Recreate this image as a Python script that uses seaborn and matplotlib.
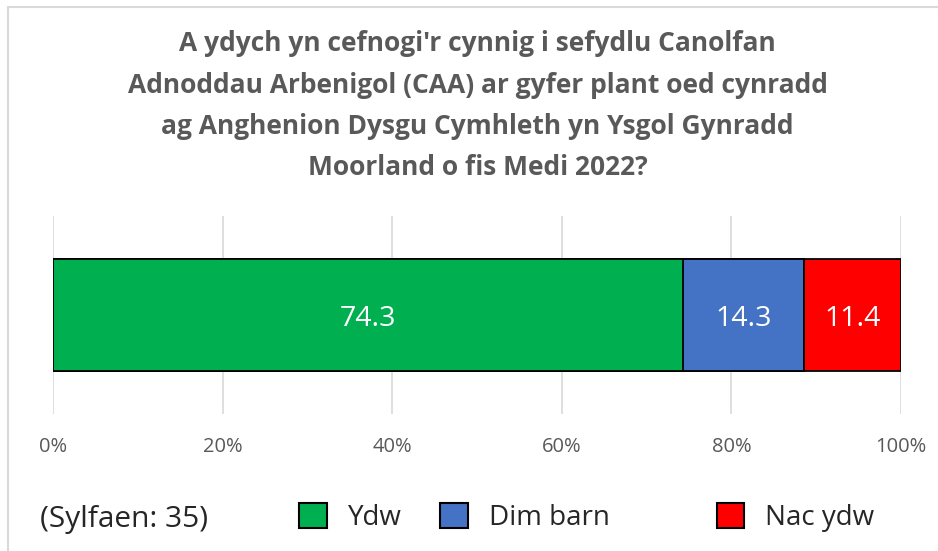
import numpy as np
import pandas as pd
import seaborn as sns
import matplotlib.pyplot as plt
from matplotlib.patches import Rectangle, Patch

# data
categories = ["Ydw", "Dim barn", "Nac ydw"]
values = [74.3, 14.3, 11.4]
colors = ["#00B050", "#4472C4", "#FF0000"]
tick_vals = [0, 20, 40, 60, 80, 100]
tick_labels = ["0%", "20%", "40%", "60%", "80%", "100%"]
title = ("A ydych yn cefnogi'r cynnig i sefydlu Canolfan\n"
         "Adnoddau Arbenigol (CAA) ar gyfer plant oed cynradd\n"
         "ag Anghenion Dysgu Cymhleth yn Ysgol Gynradd\n"
         "Moorland o fis Medi 2022?")
base_note = "(Sylfaen: 35)"

sns.set_theme(style="white")
plt.rcParams['font.family'] = ['Open Sans', 'DejaVu Sans']

fig = plt.figure(figsize=(9.38, 5.51), dpi=100)
ax = fig.add_axes([0.0565, 0.249, 0.904, 0.359])

# stacked bar: draw cumulative totals from largest to smallest
cum = np.cumsum(values)
df = pd.DataFrame({"cat": categories, "cum": cum, "row": [""] * 3})
for i in range(len(categories) - 1, -1, -1):
    sns.barplot(data=df.iloc[[i]], x="cum", y="row", color=colors[i],
                orient="h", width=0.57, edgecolor="black", linewidth=1.3,
                saturation=1, ax=ax, zorder=2)

starts = cum - np.array(values)
for s, v in zip(starts, values):
    ax.text(s + v / 2, 0.02, f"{v:.1f}", color="white", fontsize=20.5,
            ha="center", va="center", zorder=3)

ax.set_xlim(0, 100)
ax.set_ylim(0.5, -0.5)
ax.set_xticks(tick_vals)
ax.set_xticklabels(tick_labels, color="#595959", fontsize=14.5)
ax.tick_params(axis="x", length=0, pad=17)
ax.set_yticks([])
ax.set_xlabel("")
ax.set_ylabel("")
ax.grid(axis="x", color="#D9D9D9", linewidth=1.2, zorder=0)
ax.set_axisbelow(True)
for sp in ax.spines.values():
    sp.set_visible(False)

fig.suptitle(title, x=0.509, y=0.945, fontsize=19, fontweight="bold",
             color="#595959", linespacing=1.68, va="top")

# legend entries, spaced like the original
xs = [0.319, 0.469, 0.764]
for x, cat, col in zip(xs, categories, colors):
    fig.legend(handles=[Patch(facecolor=col, edgecolor="black", linewidth=1.5)],
               labels=[cat], loc="center left", bbox_to_anchor=(x, 0.06),
               frameon=False, fontsize=20, handlelength=1.0, handleheight=1.0,
               handletextpad=0.75, labelcolor="#262626", borderaxespad=0,
               borderpad=0)
fig.text(40 / 938, 0.058, base_note, fontsize=21.5, color="#262626",
         ha="left", va="center")

# chart border
fig.add_artist(Rectangle((8 / 938, -0.05), 1.0, 1.05 - 7 / 551,
                         transform=fig.transFigure, fill=False,
                         edgecolor="#D9D9D9", linewidth=1.5))

fig.savefig("out.png", dpi=100)
